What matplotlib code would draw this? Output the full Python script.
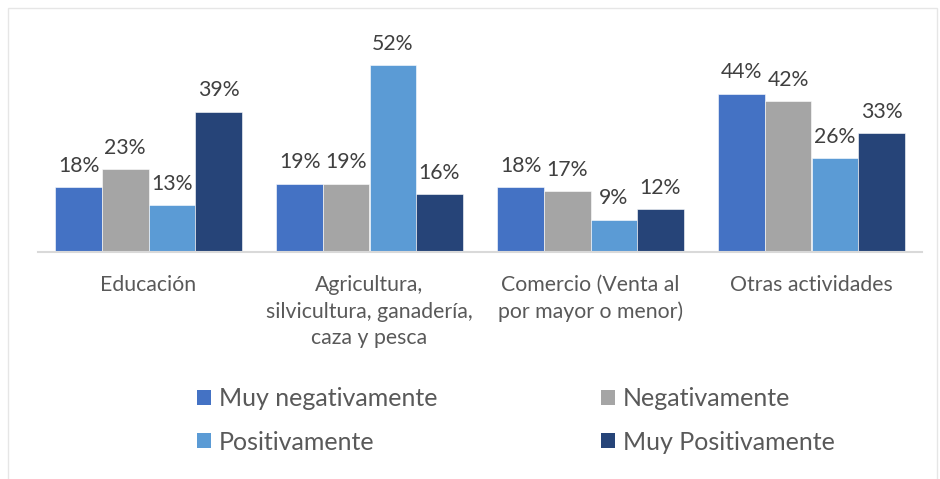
import matplotlib
matplotlib.use("Agg")
import matplotlib.pyplot as plt
from matplotlib.patches import Patch, Rectangle
import numpy as np

plt.rcParams['font.family'] = ['Lato', 'DejaVu Sans']

categories = ["Educación", "Agricultura,\nsilvicultura, ganadería,\ncaza y pesca",
              "Comercio (Venta al\npor mayor o menor)", "Otras actividades"]
series_names = ["Muy negativamente", "Negativamente", "Positivamente", "Muy Positivamente"]
muy_negativamente = [0.18, 0.19, 0.18, 0.44]
negativamente = [0.23, 0.19, 0.17, 0.42]
positivamente = [0.13, 0.52, 0.09, 0.26]
muy_positivamente = [0.39, 0.16, 0.12, 0.33]
series_values = [muy_negativamente, negativamente, positivamente, muy_positivamente]
colors = ["#4472C4", "#A5A5A5", "#5B9BD5", "#264478"]

W, H = 940, 479
fig = plt.figure(figsize=(W / 100, H / 100), dpi=100)

# outer frame
fig.patches.append(Rectangle((8 / W, -0.1), (937 - 8) / W, (H - 8) / H + 0.1,
                             transform=fig.transFigure, fill=False,
                             edgecolor="#E6E6E6", linewidth=1))

ax_left, ax_right = 38, 922
ax_top, ax_bottom = 20, 252
ax = fig.add_axes([ax_left / W, (H - ax_bottom) / H, (ax_right - ax_left) / W, (ax_bottom - ax_top) / H])

x = np.arange(len(categories))
bw = 0.211
handles = []
for i, (name, vals, c) in enumerate(zip(series_names, series_values, colors)):
    off = (i - 1.5) * bw
    ax.bar(x + off, vals, width=bw, color=c, edgecolor="white", linewidth=0.4, label=name)
    handles.append(Patch(facecolor=c, edgecolor="none", label=name))
    for xi, v in zip(x + off, vals):
        ax.annotate(f"{round(v * 100)}%", (xi, v), xytext=(0, 8), textcoords="offset points",
                    ha="center", va="bottom", fontsize=15.3, color="#404040")

ax.set_xlim(-0.5, 3.5)
ax.set_ylim(0, (ax_bottom - ax_top) / 360.0)
ax.set_yticks([])
ax.set_xticks(x)
ax.set_xticklabels(categories, fontsize=15.3, color="#595959", linespacing=1.42, ha="center")
ax.tick_params(axis="x", length=0, pad=16.5)
for s in ["top", "right", "left"]:
    ax.spines[s].set_visible(False)
ax.spines["bottom"].set_color("#D9D9D9")
ax.spines["bottom"].set_linewidth(1.5)

leg_kw = dict(frameon=False, fontsize=18, handlelength=0.56, handleheight=0.56,
              handletextpad=0.32, labelspacing=0.82, borderpad=0, borderaxespad=0,
              labelcolor="#595959", loc="upper left")
leg1 = fig.legend([handles[0], handles[2]], [series_names[0], series_names[2]],
                  bbox_to_anchor=(197 / W, (H - 387) / H), **leg_kw)
leg2 = fig.legend([handles[1], handles[3]], [series_names[1], series_names[3]],
                  bbox_to_anchor=(601 / W, (H - 387) / H), **leg_kw)

fig.savefig("out.png", dpi=100)
